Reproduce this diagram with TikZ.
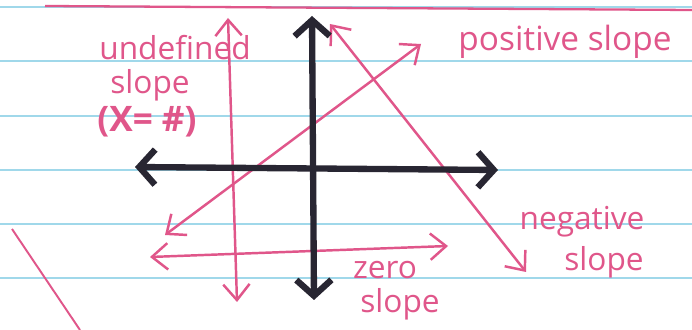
\documentclass[tikz,border=0pt]{standalone}
\usepackage{fontspec}
\setmainfont{Open Sans}
\usetikzlibrary{arrows.meta}
\definecolor{inkpink}{RGB}{224,86,138}
\definecolor{inkblack}{RGB}{40,38,50}
\definecolor{rulecyan}{RGB}{160,216,234}
\tikzset{
    ruling/.style={rulecyan, line width=0.7pt},
    axisline/.style={inkblack, line width=3.6pt, line cap=round,
        {Straight Barb[length=9pt,width=20pt]}-{Straight Barb[length=9pt,width=20pt]}},
    slopeline/.style={inkpink, line width=1.4pt, line cap=round,
        {Straight Barb[length=9pt,width=15pt]}-{Straight Barb[length=9pt,width=15pt]}},
    lbl/.style={inkpink, font=\fontsize{18}{20}\selectfont, inner sep=0pt}
}

\begin{document}
\begin{tikzpicture}[x=0.02cm, y=-0.02cm]
            \fill[white] (0,0) rectangle (692,330);
            \useasboundingbox (0,0) rectangle (692,330);
            % ruled paper
            \foreach \y in {7,61,116,170,224,278}
                \draw[ruling] (0,\y) -- (692,\y);
            \draw[inkpink, line width=1.3pt] (45,6) -- (692,10);
            \draw[inkpink, line width=1.1pt] (12,229) -- (80,330);
            % end points
            \coordinate (Ytop) at (312,16);
            \coordinate (Ybot) at (314,300);
            \coordinate (Xleft) at (135,167);
            \coordinate (Xright) at (498,170);
            \coordinate (Utop) at (228,18);
            \coordinate (Ubot) at (237,302);
            \coordinate (Pbot) at (165,235);
            \coordinate (Ptop) at (421,44);
            \coordinate (Ntop) at (330,24);
            \coordinate (Nbot) at (526,272);
            \coordinate (Zleft) at (150,257);
            \coordinate (Zright) at (448,246);
            % slopes
            \draw[slopeline] (Utop) -- (Ubot);
            \draw[slopeline] (Pbot) -- (Ptop);
            \draw[slopeline] (Ntop) -- (Nbot);
            \draw[slopeline] (Zleft) -- (Zright);
            % axes
            \draw[axisline] (Ytop) -- (Ybot);
            \draw[axisline] (Xleft) -- (Xright);
            % labels
            \node[lbl] (undef) at (175,48) {undefined};
            \node[lbl] (undefslope) at (150,85) {slope};
            \node[lbl, font=\fontsize{20}{22}\selectfont\bfseries] (undefeq) at (147,122) {(X= \#)};
            \node[lbl, font=\fontsize{19}{21}\selectfont] (pos) at (565,42) {positive slope};
            \node[lbl] (neg) at (582,222) {negative};
            \node[lbl] (negslope) at (604,262) {slope};
            \node[lbl] (zero) at (385,270) {zero};
            \node[lbl] (zeroslope) at (400,304) {slope};
        \end{tikzpicture}
\end{document}
